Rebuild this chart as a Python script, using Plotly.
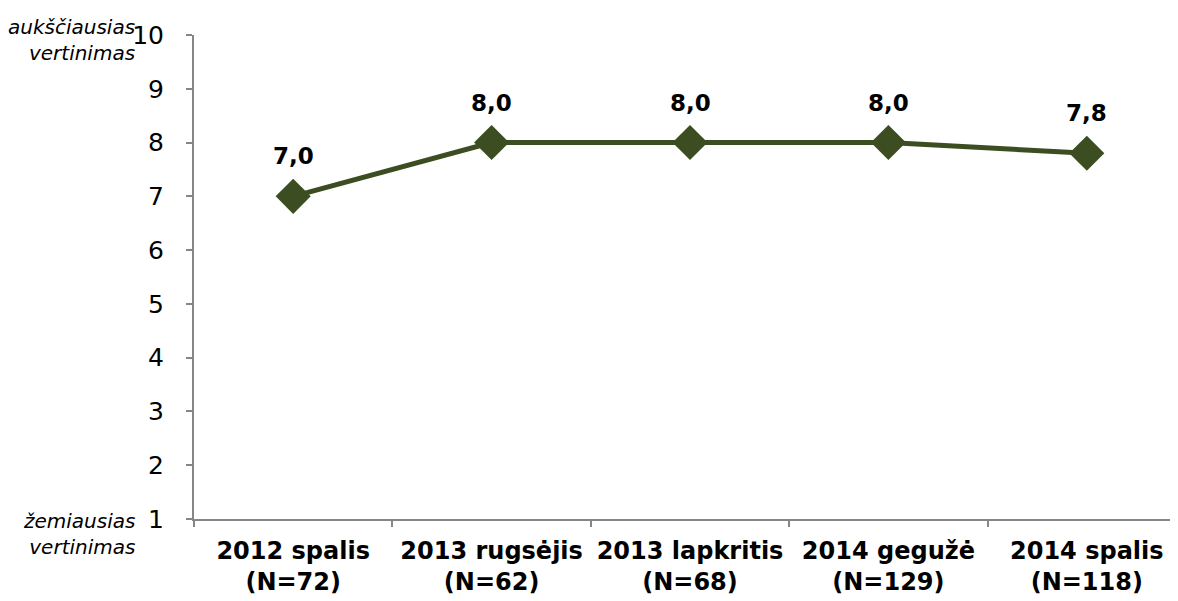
import plotly.graph_objects as go

categories = ["2012 spalis<br>(N=72)", "2013 rugsėjis<br>(N=62)", "2013 lapkritis<br>(N=68)",
              "2014 gegužė<br>(N=129)", "2014 spalis<br>(N=118)"]
values = [7.0, 8.0, 8.0, 8.0, 7.8]
y_ticks = [1, 2, 3, 4, 5, 6, 7, 8, 9, 10]

labels = [f"{v:.1f}".replace(".", ",") for v in values]
color = "#3b4d21"
font_family = "DejaVu Sans"

fig = go.Figure()
fig.add_trace(go.Scatter(
    x=categories, y=values, mode="lines+markers",
    line=dict(color=color, width=5),
    marker=dict(symbol="diamond", size=27, color=color),
    cliponaxis=False, showlegend=False,
))

for c, v, t in zip(categories, values, labels):
    fig.add_annotation(x=c, y=v, xref="x", yref="y", text=t, showarrow=False,
                       yshift=40, font=dict(family=font_family, size=23, color="black", weight="bold"))

fig.update_layout(
    width=1178, height=601,
    margin=dict(l=186, r=0, t=27, b=90),
    paper_bgcolor="white", plot_bgcolor="white",
    font=dict(family=font_family, color="black"),
    xaxis=dict(
        type="category", range=[-0.5, 4.5],
        showline=True, linecolor="#868686", linewidth=2,
        ticks="outside", tickson="boundaries", ticklen=6, tickcolor="#868686", tickwidth=1.5,
        tickfont=dict(family=font_family, size=24, color="black", weight="bold"),
        ticklabelstandoff=9,
        showgrid=False, zeroline=False,
    ),
    yaxis=dict(
        range=[1, 10], tickvals=y_ticks,
        showline=True, linecolor="#868686", linewidth=2,
        ticks="outside", ticklen=6, tickcolor="#868686", tickwidth=1.5,
        tickfont=dict(family=font_family, size=25, color="black"),
        ticklabelstandoff=17,
        showgrid=False, zeroline=False,
    ),
)

ann_font = dict(family=font_family, size=20, color="black", style="italic")
fig.add_annotation(xref="paper", yref="paper", x=-0.0575, y=0.99, xanchor="right", yanchor="middle",
                   text="aukščiausias<br>vertinimas", showarrow=False, align="right", font=ann_font)
fig.add_annotation(xref="paper", yref="paper", x=-0.0575, y=-0.031, xanchor="right", yanchor="middle",
                   text="žemiausias<br>vertinimas", showarrow=False, align="right", font=ann_font)

fig.write_html("out.html")
